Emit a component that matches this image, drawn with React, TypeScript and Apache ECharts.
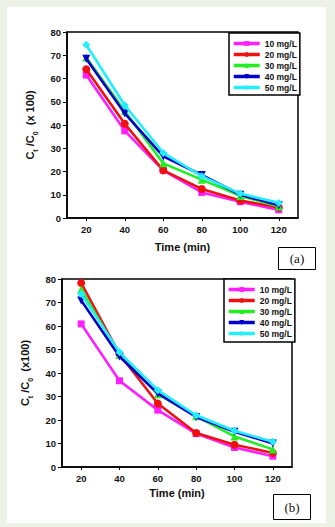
import React, { useEffect, useRef } from "react";
import * as echarts from "echarts";

const times = [20, 40, 60, 80, 100, 120];
const seriesNames = ["10 mg/L", "20 mg/L", "30 mg/L", "40 mg/L", "50 mg/L"];
const colors = ["#ff1eff", "#ee1111", "#22ee22", "#0000cc", "#22eeff"];
const symbols = ["rect", "circle", "triangle", "triangle", "diamond"];
const symbolRotates = [0, 0, 0, 180, 0];

// panel (a)
const a10 = [61.5, 37.5, 20.5, 11, 7, 3.5];
const a20 = [64, 40.5, 20.5, 12.5, 7.5, 4.5];
const a30 = [69, 46, 23.5, 16.5, 9.5, 5];
const a40 = [68.5, 45, 26.5, 18.5, 10, 5.5];
const a50 = [74.5, 48.5, 28, 18, 10.5, 6.5];

// panel (b)
const b10 = [60.9, 36.7, 24.2, 14.2, 8.3, 4.6];
const b20 = [78.3, 48, 27, 14.5, 9.5, 6];
const b30 = [75.5, 47.7, 31, 21.6, 13, 7.5];
const b40 = [70.9, 47, 31.3, 21.3, 15, 10];
const b50 = [73.6, 48.8, 32.7, 22, 15.4, 10.7];

const yTicks = [0, 10, 20, 30, 40, 50, 60, 70, 80];

const FONT = "'Liberation Sans', Arial, sans-serif";

export default function App() {
  const ref = useRef<HTMLDivElement>(null);
  useEffect(() => {
    if (!ref.current) return;
    const chart = echarts.init(ref.current, null, { renderer: "svg" });
    const setsA = [a10, a20, a30, a40, a50];
    const setsB = [b10, b20, b30, b40, b50];

    const mkX = (gridIndex: number, gap: number) => ({
      type: "value",
      gridIndex,
      min: 10,
      max: 130,
      name: "Time (min)",
      nameLocation: "middle",
      nameGap: gap,
      nameTextStyle: { fontFamily: FONT, fontWeight: "bold", fontSize: 11, color: "#111" },
      axisLine: { show: true, lineStyle: { color: "#000", width: 1.5 } },
      axisTick: { show: true, inside: false, length: 3, customValues: times, lineStyle: { color: "#000", width: 1 } },
      axisLabel: { customValues: times, margin: 6, fontFamily: FONT, fontWeight: "bold", fontSize: 9.5, color: "#111" },
      splitLine: { show: false },
    });
    const mkY = (gridIndex: number, spaced: boolean) => ({
      type: "value",
      gridIndex,
      min: yTicks[0],
      max: yTicks[yTicks.length - 1],
      interval: 10,
      name: spaced ? "{b|C}{s|t}{b| /C}{s|0}{b|  (x 100)}" : "{b|C}{s|t}{b| /C}{s|0}{b|  (x100)}",
      nameLocation: "middle",
      nameGap: 28,
      nameTextStyle: {
        color: "#111",
        rich: {
          b: { fontFamily: FONT, fontWeight: "bold", fontSize: 11, lineHeight: 18, verticalAlign: "middle", color: "#111" },
          s: { fontFamily: FONT, fontWeight: "bold", fontSize: 7, lineHeight: 18, verticalAlign: "bottom", color: "#111" },
        },
      },
      axisLine: { show: true, lineStyle: { color: "#000", width: 1.5 } },
      axisTick: { show: true, inside: false, length: 4, lineStyle: { color: "#000", width: 1 } },
      axisLabel: { margin: 6, fontFamily: FONT, fontWeight: "bold", fontSize: 9.5, color: "#111" },
      splitLine: { show: false },
    });

    const mkSeries = (sets: number[][], idx: number) =>
      sets.map((vals, i) => ({
        type: "line",
        name: seriesNames[i],
        xAxisIndex: idx,
        yAxisIndex: idx,
        data: times.map((t, j) => [t, vals[j]]),
        symbol: symbols[i],
        symbolRotate: symbolRotates[i],
        symbolSize: i === 0 ? 7 : 8,
        lineStyle: { color: colors[i], width: 2.6 },
        itemStyle: { color: colors[i] },
        z: 2 + i,
      }));

    const legendCommon = {
      orient: "vertical",
      data: seriesNames,
      itemWidth: 26,
      itemHeight: 6,
      itemGap: 0,
      backgroundColor: "#fff",
      borderColor: "#000",
      borderWidth: 1.5,
      borderRadius: 0,
      lineStyle: { width: 3.5 },
      textStyle: { fontFamily: FONT, fontWeight: "bold", fontSize: 8.5, lineHeight: 11, color: "#111" },
      selectedMode: false,
    };

    chart.setOption({
      animation: false,
      backgroundColor: "transparent",
      grid: [
        { left: 67, top: 32, width: 231, height: 186, show: true, borderColor: "#000", borderWidth: 1.5, backgroundColor: "transparent" },
        { left: 62, top: 279, width: 230, height: 188, show: true, borderColor: "#000", borderWidth: 1.5, backgroundColor: "transparent" },
      ],
      xAxis: [mkX(0, 23), mkX(1, 20)],
      yAxis: [mkY(0, true), mkY(1, false)],
      legend: [
        { ...legendCommon, left: 229, top: 33, padding: [5, 3, 2, 3] },
        { ...legendCommon, left: 224, top: 279, padding: [5, 3, 3, 3] },
      ],
      graphic: [
        { type: "rect", shape: { x: 278.5, y: 247.5, width: 37, height: 22 }, style: { fill: "#fff", stroke: "#000", lineWidth: 1 } },
        { type: "text", x: 297, y: 258.5, style: { text: "(a)", fontFamily: "'Liberation Serif', serif", fontSize: 13, fill: "#111", align: "center", verticalAlign: "middle" } },
        { type: "rect", shape: { x: 273.5, y: 494.5, width: 37, height: 25 }, style: { fill: "#fff", stroke: "#000", lineWidth: 1 } },
        { type: "text", x: 292, y: 507, style: { text: "(b)", fontFamily: "'Liberation Serif', serif", fontSize: 13, fill: "#111", align: "center", verticalAlign: "middle" } },
      ],
      series: [...mkSeries(setsA, 0), ...mkSeries(setsB, 1)],
    });
    return () => chart.dispose();
  }, []);

  return (
    <div style={{ position: "fixed", left: 0, top: 0, width: 335, height: 527, background: "#eef2e6" }}>
      <div style={{ position: "absolute", left: 7, top: 7, width: 319, height: 516, background: "#fff" }} />
      <div ref={ref} style={{ position: "absolute", left: 0, top: 0, width: 335, height: 527 }} />
    </div>
  );
}
